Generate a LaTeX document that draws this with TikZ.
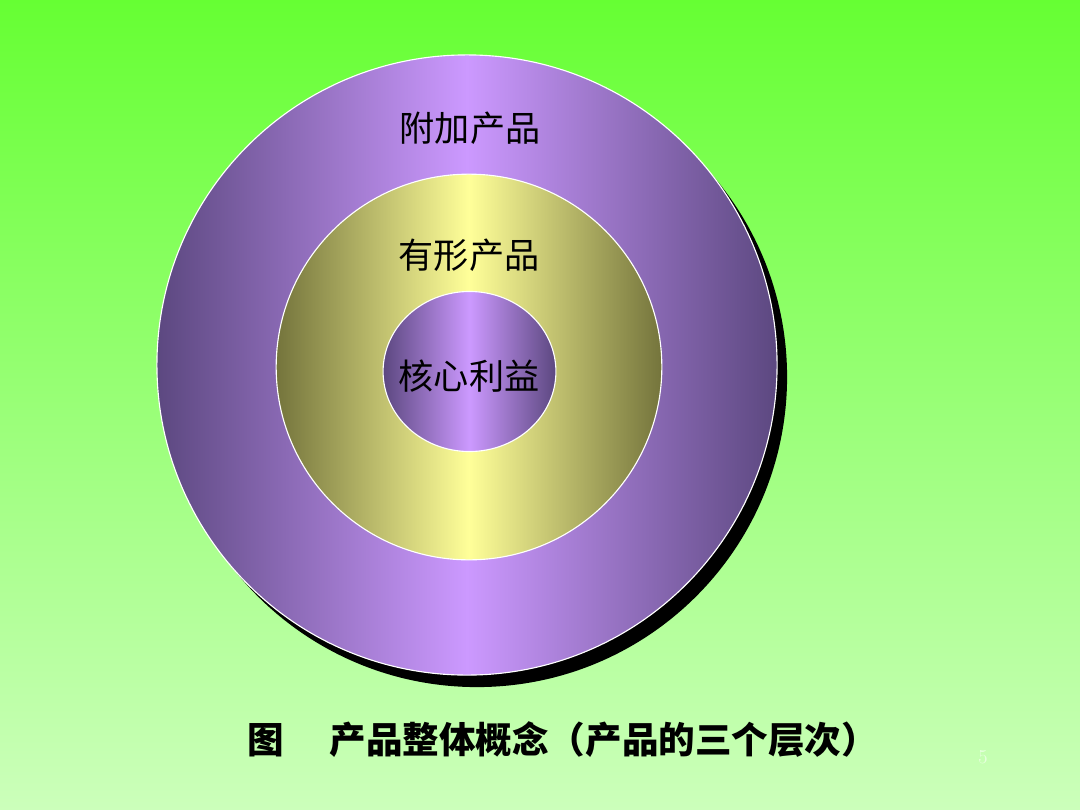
\documentclass[tikz,border=0pt]{standalone}
\usepackage{fontspec}
\newfontfamily\cjk{Noto Sans CJK SC}
\definecolor{bgtop}{HTML}{66FF33}
\definecolor{bgbottom}{HTML}{CCFFBB}
\definecolor{purpledark}{HTML}{5C4880}
\definecolor{purplelight}{HTML}{CC99FF}
\definecolor{olivedark}{HTML}{74743C}
\definecolor{olivelight}{HTML}{FFFF99}
\definecolor{pagenum}{HTML}{E6FFDD}

\begin{document}
\begin{tikzpicture}[x=0.025cm, y=-0.025cm,
  ring/.style={draw=white, line width=0.8pt},
  purplering/.style={ring, left color=purpledark, right color=purpledark, middle color=purplelight},
  oliverring/.style={ring, left color=olivedark, right color=olivedark, middle color=olivelight},
  label/.style={font=\cjk\fontsize{25}{30}\selectfont, inner sep=0pt},
  caption/.style={font=\cjk\bfseries\fontsize{26}{30}\selectfont, inner sep=0pt, anchor=west}]
  % background
  \shade[top color=bgtop, bottom color=bgbottom] (0,0) rectangle (1080,810);
  \useasboundingbox (0,0) rectangle (1080,810);
  \coordinate (c) at (467,365);
  % rings
  \fill[black] ([shift={(10,12)}]c) circle [radius=7.75cm];
  \shade[purplering] (c) circle [radius=7.75cm];
  \shade[oliverring] ([shift={(2,2)}]c) circle [radius=4.82cm];
  \shade[purplering] ([shift={(2.5,6.5)}]c) circle [x radius=2.16cm, y radius=2.0cm];
  \node[label] (extra) at (470,128) {附加产品};
  \node[label] (formal) at (469,255) {有形产品};
  \node[label] (core) at (469,376) {核心利益};
  % caption
  \node[caption] (title) at (247,740) {图\hspace{1.25em}产品整体概念（产品的三个层次）};
  \node[font=\fontsize{14}{14}\selectfont, text=pagenum, inner sep=0pt] (page) at (983,757) {5};
\end{tikzpicture}
\end{document}
